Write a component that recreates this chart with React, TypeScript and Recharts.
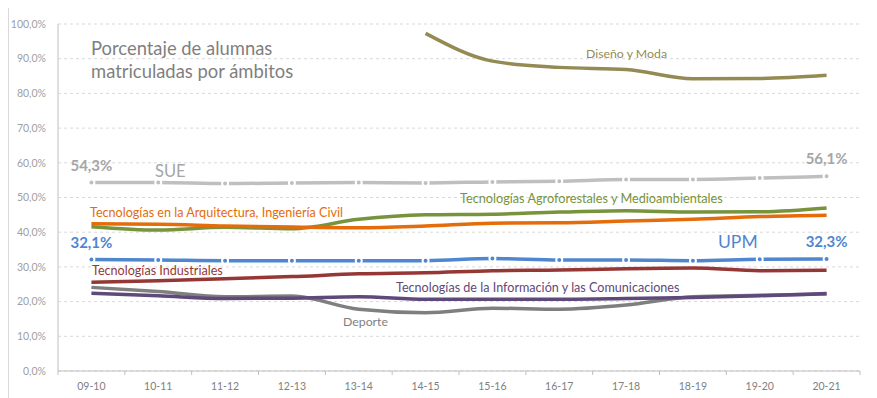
import { LineChart, Line, XAxis, YAxis, CartesianGrid, LabelList } from 'recharts';

const categories = ['09-10', '10-11', '11-12', '12-13', '13-14', '14-15', '15-16', '16-17', '17-18', '18-19', '19-20', '20-21'];
const sue = [54.3, 54.3, 54.0, 54.2, 54.3, 54.2, 54.5, 54.7, 55.2, 55.2, 55.6, 56.1];
const upm = [32.1, 32.0, 31.8, 31.8, 31.8, 31.8, 32.4, 32.0, 32.0, 31.8, 32.2, 32.3];
const disenoModa = [null, null, null, null, null, 97.3, 89.3, 87.5, 86.9, 84.2, 84.3, 85.2];
const agroforestales = [41.6, 40.6, 41.4, 41.0, 43.7, 45.0, 45.2, 45.8, 46.2, 45.8, 45.9, 47.0];
const arquitectura = [42.4, 42.3, 41.8, 41.5, 41.3, 41.8, 42.6, 42.7, 43.2, 43.7, 44.5, 44.9];
const industriales = [25.6, 26.0, 26.6, 27.2, 28.0, 28.3, 28.9, 29.1, 29.5, 29.7, 28.9, 29.0];
const tic = [22.4, 21.7, 20.9, 21.0, 21.4, 20.7, 20.7, 20.7, 20.9, 21.2, 21.7, 22.3];
const deporte = [24.1, 22.9, 21.4, 21.6, 17.8, 16.8, 18.1, 17.8, 19.0, 21.4, 21.8, 22.2];
const yTicks = [0, 10, 20, 30, 40, 50, 60, 70, 80, 90, 100];

const data = categories.map((curso, i) => ({
  curso,
  sue: sue[i],
  upm: upm[i],
  diseno: disenoModa[i],
  agro: agroforestales[i],
  arq: arquitectura[i],
  ind: industriales[i],
  tic: tic[i],
  deporte: deporte[i],
}));

const W = 877;
const H = 398;
const LEFT = 58;
const RIGHT = 17;
const HALF_BAND = (W - LEFT - RIGHT) / categories.length / 2;
const FONT = 'Lato, "Open Sans", sans-serif';

const pct = (v: number) => v.toFixed(1).replace('.', ',') + '%';

const XTick = (props: any) => {
  const { x, y, payload, index } = props;
  const last = index === categories.length - 1;
  return (
    <g>
      <line x1={x - HALF_BAND} x2={x - HALF_BAND} y1={y} y2={y + 4} stroke="#bfbfbf" />
      {last && <line x1={x + HALF_BAND} x2={x + HALF_BAND} y1={y} y2={y + 4} stroke="#bfbfbf" />}
      <text x={x} y={y + 19} textAnchor="middle" fontSize={10.5} fill="#808080" fontFamily={FONT}>
        {payload.value}
      </text>
    </g>
  );
};

const endLabel = (color: string) => (props: any) => {
  const { x, y, value, index } = props;
  if (index !== 0 && index !== categories.length - 1) return null;
  return (
    <text x={x} y={y - 12} textAnchor="middle" fontSize={15} fontWeight={700} fill={color} fontFamily={FONT}>
      {pct(value)}
    </text>
  );
};

export default function App() {
  return (
    <div style={{ position: 'absolute', left: 0, top: 0, width: W, height: H, background: '#fff' }}>
      <LineChart width={W} height={H} data={data} margin={{ top: 24, right: RIGHT, bottom: 0, left: 0 }}>
        <CartesianGrid vertical={false} stroke="#d9d9d9" strokeDasharray="3 3" />
        <XAxis
          dataKey="curso"
          interval={0}
          height={27}
          padding={{ left: HALF_BAND, right: HALF_BAND }}
          axisLine={{ stroke: '#bfbfbf' }}
          tickLine={false}
          tickSize={0}
          tickMargin={0}
          tick={<XTick />}
        />
        <YAxis
          domain={[0, 100]}
          ticks={yTicks}
          width={LEFT}
          axisLine={{ stroke: '#bfbfbf' }}
          tickLine={false}
          tickSize={0}
          tickMargin={12}
          tickFormatter={pct}
          tick={{ fontSize: 10.5, fill: '#a0a0a0', fontFamily: FONT }}
        />
        <Line type="monotone" dataKey="deporte" stroke="#7f7f7f" strokeWidth={3.5} dot={false} isAnimationActive={false} />
        <Line type="monotone" dataKey="agro" stroke="#77933c" strokeWidth={3.5} dot={false} isAnimationActive={false} />
        <Line type="monotone" dataKey="arq" stroke="#e46c0a" strokeWidth={3.5} dot={false} isAnimationActive={false} />
        <Line type="monotone" dataKey="ind" stroke="#953735" strokeWidth={3.5} dot={false} isAnimationActive={false} />
        <Line type="monotone" dataKey="tic" stroke="#5f497a" strokeWidth={3.5} dot={false} isAnimationActive={false} />
        <Line type="monotone" dataKey="diseno" stroke="#948a54" strokeWidth={3.5} dot={false} isAnimationActive={false} />
        <Line
          type="monotone"
          dataKey="sue"
          stroke="#bfbfbf"
          strokeWidth={3.5}
          dot={{ r: 3, fill: '#bfbfbf', stroke: '#fff', strokeWidth: 2 }}
          isAnimationActive={false}
        >
          <LabelList dataKey="sue" content={endLabel('#a6a6a6')} />
        </Line>
        <Line
          type="monotone"
          dataKey="upm"
          stroke="#4f86d0"
          strokeWidth={3.5}
          dot={{ r: 3, fill: '#4f86d0', stroke: '#fff', strokeWidth: 2 }}
          isAnimationActive={false}
        >
          <LabelList dataKey="upm" content={endLabel('#4f86d0')} />
        </Line>
      </LineChart>
      <svg width={W} height={H} style={{ position: 'absolute', left: 0, top: 0, pointerEvents: 'none' }}>
        <line x1={8.5} x2={8.5} y1={8} y2={H} stroke="#d9d9d9" />
        <g fontFamily={FONT}>
          <text x={91} y={55} fontSize={18.4} fill="#7f7f7f">Porcentaje de alumnas</text>
          <text x={91} y={78} fontSize={18.4} fill="#7f7f7f">matriculadas por ámbitos</text>
          <text x={155} y={177} fontSize={16.5} fill="#a6a6a6">SUE</text>
          <text x={718} y={248} fontSize={17.5} fill="#4f86d0">UPM</text>
          <text x={586} y={58} fontSize={12.3} fill="#948a54">Diseño y Moda</text>
          <text x={90} y={217} fontSize={12.6} fill="#e46c0a">Tecnologías en la Arquitectura, Ingeniería Civil</text>
          <text x={460} y={203} fontSize={12.7} fill="#77933c">Tecnologías Agroforestales y Medioambientales</text>
          <text x={92} y={275} fontSize={12.6} fill="#953735">Tecnologías Industriales</text>
          <text x={396} y={292} fontSize={12.6} fill="#5f497a">Tecnologías de la Información y las Comunicaciones</text>
          <text x={343} y={326} fontSize={12.3} fill="#7f7f7f">Deporte</text>
        </g>
      </svg>
    </div>
  );
}
